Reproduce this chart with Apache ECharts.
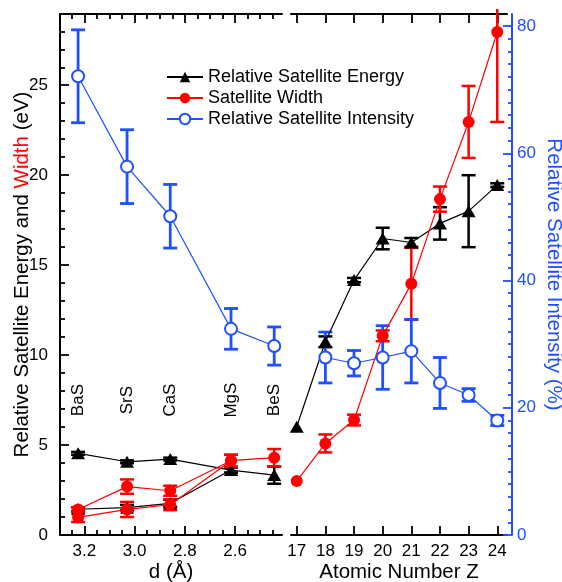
<!DOCTYPE html>
<html>
<head>
<meta charset="utf-8">
<script src="https://cdn.jsdelivr.net/npm/echarts@6/dist/echarts.min.js"></script>
<style>html,body{margin:0;padding:0;background:#fff}#c{width:562px;height:582px}</style>
</head>
<body>
<div id="c"></div>
<script>
// ---------- data ----------
const compounds = ['BaS', 'SrS', 'CaS', 'MgS', 'BeS'];
const dSpacing = [3.225, 3.03, 2.858, 2.616, 2.444];
const energyUpperD = [4.54, 4.07, 4.22, 3.61, 3.33];
const energyUpperDErr = [0.08, 0.08, 0.08, 0.15, 0.48];
const energyLowerD = [1.43, 1.52, 1.76, 3.61];
const energyLowerDErr = [0.1, 0.15, 0.2, 0.15];
const widthUpperD = [1.42, 2.69, 2.46, 4.13, 4.3];
const widthUpperDErr = [0.12, 0.4, 0.28, 0.33, 0.48];
const widthLowerD = [0.98, 1.42, 1.68, 4.13];
const widthLowerDErr = [0.26, 0.42, 0.3, 0.33];
const intensityD = [72.1, 57.9, 50.1, 32.4, 29.7];
const intensityDErr = [7.3, 5.8, 5.0, 3.2, 3.0];

const atomicZ = [17, 18, 19, 20, 21, 22, 23, 24];
const energyZ = [6.02, 10.74, 14.17, 16.48, 16.26, 17.32, 18.0, 19.45];
const energyZErr = [0, 0.3, 0.12, 0.6, 0.25, 0.9, 2.0, 0.1];
const widthZ = [3.0, 5.09, 6.39, 11.07, 13.96, 18.67, 22.96, 27.96];
const widthZErr = [0, 0.5, 0.3, 0.3, 2.0, 0.7, 2.0, 5.0];
const intensityZVals = [18, 19, 20, 21, 22, 23, 24];
const intensityZ = [27.9, 27.0, 27.9, 28.9, 23.9, 22.0, 18.0];
const intensityZErr = [4, 2, 5, 5, 4, 1, 0.8];

const dMajorTicks = [2.6, 2.8, 3.0, 3.2];
const dMinorTicks = [2.45, 2.5, 2.55, 2.65, 2.7, 2.75, 2.85, 2.9, 2.95, 3.05, 3.1, 3.15, 3.25];
const zTicks = [17, 18, 19, 20, 21, 22, 23, 24];
const eVMajorTicks = [0, 5, 10, 15, 20, 25];
const eVMinorTicks = [1, 2, 3, 4, 6, 7, 8, 9, 11, 12, 13, 14, 16, 17, 18, 19, 21, 22, 23, 24, 26, 27, 28];
const pctMajorTicks = [0, 20, 40, 60, 80];
const pctMinorTicks = [2, 4, 6, 8, 10, 12, 14, 16, 18, 22, 24, 26, 28, 30, 32, 34, 36, 38, 42, 44, 46, 48, 50, 52, 54, 56, 58, 62, 64, 66, 68, 70, 72, 74, 76, 78];
const compoundLabelY = 7.5;

const NAME_E = 'Relative Satellite Energy';
const NAME_W = 'Satellite Width';
const NAME_I = 'Relative Satellite Intensity';

// ---------- styling ----------
const BLACK = '#000000';
const RED = '#ff0000';
const BLUE = '#1f4fff';
const FONT = 'Liberation Sans, Arial, Helvetica, sans-serif';

const zip = (xs, ys) => ys.map((y, i) => [xs[i], y]);
const zip3 = (xs, ys, es) => ys.map((y, i) => [xs[i], y, es[i]]);

function errSeries(data, color, xi, yi, lw) {
  return {
    type: 'custom', xAxisIndex: xi, yAxisIndex: yi, z: 3, silent: true,
    data: data.filter(d => d[2] > 0),
    renderItem: function (params, api) {
      const x = api.value(0), y = api.value(1), e = api.value(2);
      const t = api.coord([x, y + e]);
      const b = api.coord([x, y - e]);
      const cs = params.coordSys;
      const hw = 7;
      const topClip = cs.y - 5;
      const children = [];
      const ty = Math.max(t[1], topClip);
      children.push({ type: 'line', shape: { x1: t[0], y1: ty, x2: b[0], y2: b[1] }, style: { stroke: color, lineWidth: lw } });
      if (t[1] >= topClip) children.push({ type: 'line', shape: { x1: t[0] - hw, y1: t[1], x2: t[0] + hw, y2: t[1] }, style: { stroke: color, lineWidth: lw } });
      children.push({ type: 'line', shape: { x1: b[0] - hw, y1: b[1], x2: b[0] + hw, y2: b[1] }, style: { stroke: color, lineWidth: lw } });
      return { type: 'group', children: children };
    }
  };
}

function lineSeries(name, data, color, symbol, size, xi, yi) {
  return {
    name: name, type: 'line', xAxisIndex: xi, yAxisIndex: yi, z: 4,
    data: data, symbol: symbol, symbolSize: size, showSymbol: true,
    lineStyle: { color: color, width: 1.2 },
    itemStyle: symbol === 'emptyCircle' ? { color: color, borderColor: color, borderWidth: 1.3 } : { color: color, borderWidth: 0 },
    emphasis: { disabled: true }, animation: false
  };
}

const tickStyle = (len, color) => ({ show: true, inside: true, length: len, lineStyle: { color: color, width: 1.8 } });
const axLine = (show, color) => ({ show: show, onZero: false, lineStyle: { color: color, width: 2 } });

const chart = echarts.init(document.getElementById('c'), null, { renderer: 'canvas' });
const option = {
  animation: false,
  backgroundColor: '#ffffff',
  textStyle: { fontFamily: FONT },
  grid: [
    { left: 60, top: 14, width: 222, height: 521, containLabel: false, outerBoundsMode: 'none' },
    { left: 291, top: 14, width: 216, height: 521, containLabel: false, outerBoundsMode: 'none' }
  ],
  legend: {
    orient: 'vertical', left: 166, top: 68, padding: 0, itemWidth: 36, itemHeight: 13, itemGap: 3,
    textStyle: { fontSize: 18, color: BLACK, fontFamily: FONT },
    lineStyle: { width: 2 },
    data: [NAME_E, NAME_W, NAME_I], selectedMode: false
  },
  xAxis: [
    { gridIndex: 0, type: 'value', position: 'bottom', inverse: true, min: 2.413, max: 3.297,
      axisLine: axLine(true, BLACK),
      axisTick: Object.assign(tickStyle(9, BLACK), { customValues: dMajorTicks }),
      axisLabel: { customValues: dMajorTicks, formatter: v => v.toFixed(1), fontSize: 17, color: BLACK, margin: 8, fontFamily: FONT },
      splitLine: { show: false }, nameMoveOverlap: false,
      name: 'd (Å)', nameLocation: 'middle', nameGap: 27, nameTextStyle: { fontSize: 20.5, color: BLACK, fontFamily: FONT } },
    { gridIndex: 0, type: 'value', position: 'bottom', inverse: true, min: 2.413, max: 3.297,
      axisLine: axLine(false, BLACK), axisTick: Object.assign(tickStyle(5, BLACK), { customValues: dMinorTicks }),
      axisLabel: { show: false }, splitLine: { show: false } },
    { gridIndex: 0, type: 'value', position: 'top', inverse: true, min: 2.413, max: 3.297,
      axisLine: axLine(true, BLACK),
      axisTick: Object.assign(tickStyle(9, BLACK), { customValues: dMajorTicks }),
      axisLabel: { show: false }, splitLine: { show: false } },
    { gridIndex: 0, type: 'value', position: 'top', inverse: true, min: 2.413, max: 3.297,
      axisLine: axLine(false, BLACK), axisTick: Object.assign(tickStyle(5, BLACK), { customValues: dMinorTicks }),
      axisLabel: { show: false }, splitLine: { show: false } },
    { gridIndex: 1, type: 'value', position: 'bottom', min: 16.8, max: 24.34,
      axisLine: axLine(true, BLACK),
      axisTick: Object.assign(tickStyle(9, BLACK), { customValues: zTicks }),
      axisLabel: { customValues: zTicks, fontSize: 17, color: BLACK, margin: 8, fontFamily: FONT },
      splitLine: { show: false }, nameMoveOverlap: false,
      name: 'Atomic Number Z', nameLocation: 'middle', nameGap: 27, nameTextStyle: { fontSize: 20.5, color: BLACK, fontFamily: FONT } },
    { gridIndex: 1, type: 'value', position: 'top', min: 16.8, max: 24.34,
      axisLine: axLine(true, BLACK),
      axisTick: Object.assign(tickStyle(9, BLACK), { customValues: zTicks }),
      axisLabel: { show: false }, splitLine: { show: false } }
  ],
  yAxis: [
    { gridIndex: 0, type: 'value', position: 'left', min: 0, max: 28.96,
      axisLine: axLine(true, BLACK),
      axisTick: Object.assign(tickStyle(9, BLACK), { customValues: eVMajorTicks }),
      axisLabel: { customValues: eVMajorTicks, fontSize: 17, color: BLACK, margin: 12, fontFamily: FONT },
      splitLine: { show: false }, nameMoveOverlap: false,
      name: 'Relative Satellite Energy and {r|Width} (eV)', nameLocation: 'middle', nameRotate: 90, nameGap: 27,
      nameTextStyle: { fontSize: 20.5, color: BLACK, fontFamily: FONT, rich: { r: { color: RED, fontSize: 20.5, fontFamily: FONT } } } },
    { gridIndex: 0, type: 'value', position: 'left', min: 0, max: 28.96,
      axisLine: axLine(false, BLACK), axisTick: Object.assign(tickStyle(5, BLACK), { customValues: eVMinorTicks }),
      axisLabel: { show: false }, splitLine: { show: false } },
    { gridIndex: 0, type: 'value', position: 'right', min: 0, max: 81.89, show: false },
    { gridIndex: 1, type: 'value', position: 'left', min: 0, max: 28.96, show: false },
    { gridIndex: 1, type: 'value', position: 'right', offset: 5, min: 0, max: 81.89,
      axisLine: axLine(true, BLUE),
      axisTick: Object.assign(tickStyle(9, BLUE), { customValues: pctMajorTicks }),
      axisLabel: { customValues: pctMajorTicks, fontSize: 17, color: BLUE, margin: 5, fontFamily: FONT },
      splitLine: { show: false }, nameMoveOverlap: false,
      name: 'Relative Satellite Intensity (%)', nameLocation: 'middle', nameRotate: -90, nameGap: 31,
      nameTextStyle: { fontSize: 20.5, color: BLUE, fontFamily: FONT } },
    { gridIndex: 1, type: 'value', position: 'right', offset: 5, min: 0, max: 81.89,
      axisLine: axLine(false, BLUE), axisTick: Object.assign(tickStyle(4, BLUE), { customValues: pctMinorTicks }),
      axisLabel: { show: false }, splitLine: { show: false } }
  ],
  series: [
    errSeries(zip3(dSpacing, energyUpperD, energyUpperDErr), BLACK, 0, 0, 2.5),
    errSeries(zip3(dSpacing, energyLowerD, energyLowerDErr), BLACK, 0, 0, 2.5),
    errSeries(zip3(dSpacing, widthUpperD, widthUpperDErr), RED, 0, 0, 2.5),
    errSeries(zip3(dSpacing, widthLowerD, widthLowerDErr), RED, 0, 0, 2.5),
    errSeries(zip3(dSpacing, intensityD, intensityDErr), BLUE, 0, 2, 2.8),
    errSeries(zip3(atomicZ, energyZ, energyZErr), BLACK, 4, 3, 2.5),
    errSeries(zip3(atomicZ, widthZ, widthZErr), RED, 4, 3, 2.5),
    errSeries(zip3(intensityZVals, intensityZ, intensityZErr), BLUE, 4, 4, 2.8),
    lineSeries(NAME_E, zip(dSpacing, energyUpperD), BLACK, 'triangle', [14, 12], 0, 0),
    lineSeries(NAME_E, zip(dSpacing, energyLowerD), BLACK, 'triangle', [14, 12], 0, 0),
    lineSeries(NAME_W, zip(dSpacing, widthUpperD), RED, 'circle', 12, 0, 0),
    lineSeries(NAME_W, zip(dSpacing, widthLowerD), RED, 'circle', 12, 0, 0),
    lineSeries(NAME_I, zip(dSpacing, intensityD), BLUE, 'emptyCircle', 12, 0, 2),
    lineSeries(NAME_E, zip(atomicZ, energyZ), BLACK, 'triangle', [14, 12], 4, 3),
    lineSeries(NAME_W, zip(atomicZ, widthZ), RED, 'circle', 12, 4, 3),
    lineSeries(NAME_I, zip(intensityZVals, intensityZ), BLUE, 'emptyCircle', 12, 4, 4),
    {
      type: 'scatter', xAxisIndex: 0, yAxisIndex: 0, symbolSize: 0, silent: true, z: 5,
      itemStyle: { opacity: 1 },
      data: compounds.map((c, i) => ({ name: c, value: [dSpacing[i], compoundLabelY] })),
      label: { show: true, position: 'inside', rotate: 90, formatter: p => p.name, fontSize: 17, color: BLACK, opacity: 1, fontFamily: FONT }
    }
  ]
};
chart.setOption(option);
</script>
</body>
</html>
